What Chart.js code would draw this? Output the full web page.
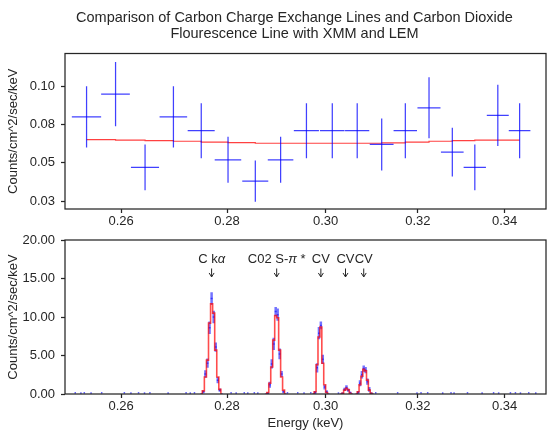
<!DOCTYPE html>
<html>
<head>
<meta charset="utf-8">
<script src="https://cdn.jsdelivr.net/npm/chart.js@4"></script>
<style>
  html, body { margin: 0; padding: 0; background: #fff; }
  #wrap { position: relative; width: 547px; height: 431px; }
  canvas { position: absolute; left: 0; }
  #xmmChart { top: 0; }
  #lemChart { top: 232px; }
</style>
</head>
<body>
<div id="wrap">
  <canvas id="xmmChart" width="547" height="232"></canvas>
  <canvas id="lemChart" width="547" height="199"></canvas>
</div>
<script>
// XMM spectrum, coarse bins (top panel)
const xmmEnergy = [0.2538, 0.2590, 0.2644, 0.2697, 0.2750, 0.2802, 0.2856, 0.2907, 0.2960,
                   0.3014, 0.3067, 0.3120, 0.3172, 0.3225, 0.3278, 0.3330, 0.3384, 0.3436];
const xmmHalfWidth = 0.0026;
const xmmRate = [0.080, 0.095, 0.047, 0.080, 0.071, 0.052, 0.038, 0.052, 0.071,
                 0.071, 0.071, 0.062, 0.071, 0.086, 0.057, 0.047, 0.081, 0.071];
const xmmErr = [0.020, 0.021, 0.015, 0.020, 0.018, 0.015, 0.0135, 0.015, 0.018,
                0.018, 0.018, 0.017, 0.018, 0.020, 0.016, 0.015, 0.020, 0.018];
const xmmModel = [0.0652, 0.0648, 0.0645, 0.0641, 0.0635, 0.0632, 0.0628, 0.0628, 0.0628,
                  0.0628, 0.0628, 0.0630, 0.0635, 0.0641, 0.0645, 0.0648, 0.0648, 0.0648];

// LEM spectrum, fine bins around the lines (bottom panel)
const lemEnergy = [
  0.2750, 0.2754, 0.2758, 0.2762, 0.2766, 0.2770, 0.2774, 0.2778, 0.2782, 0.2786, 0.2790,
  0.2877, 0.2881, 0.2885, 0.2889, 0.2893, 0.2897, 0.2901, 0.2905, 0.2909, 0.2913, 0.2917,
  0.2974, 0.2978, 0.2982, 0.2986, 0.2990, 0.2994, 0.2998, 0.3002, 0.3006,
  0.3032, 0.3036, 0.3040, 0.3044, 0.3048, 0.3052, 0.3056,
  0.3065, 0.3069, 0.3073, 0.3077, 0.3081, 0.3085, 0.3089, 0.3093, 0.3097, 0.3101
];
const lemRate = [
  0, 0.3, 2.6, 4.0, 8.6, 12.4, 10.0, 6.1, 1.8, 0.5, 0,
  0, 0.1, 1.2, 3.9, 6.5, 10.7, 10.3, 5.2, 2.6, 0.3, 0,
  0, 0.2, 3.4, 7.9, 8.9, 4.5, 0.9, 0.3, 0,
  0, 0.1, 0.6, 0.85, 0.5, 0.2, 0,
  0, 0.2, 1.4, 2.5, 3.3, 3.1, 1.6, 0.6, 0.1, 0
];
const lemErr = [
  0, 0.2, 0.5, 0.6, 0.8, 0.8, 0.8, 0.6, 0.4, 0.2, 0,
  0, 0.1, 0.4, 0.6, 0.8, 0.6, 0.8, 0.7, 0.4, 0.2, 0,
  0, 0.2, 0.6, 0.8, 0.5, 0.6, 0.3, 0.2, 0,
  0, 0.1, 0.2, 0.3, 0.2, 0.1, 0,
  0, 0.2, 0.4, 0.5, 0.4, 0.4, 0.4, 0.3, 0.1, 0
];
const lemModel = [
  0, 0.4, 2.2, 4.4, 9.2, 11.7, 10.5, 5.7, 2.2, 0.6, 0,
  0, 0.2, 1.4, 3.5, 7.0, 10.2, 9.9, 5.7, 2.2, 0.5, 0,
  0, 0.3, 3.8, 7.4, 8.7, 4.0, 1.2, 0.2, 0,
  0, 0.1, 0.5, 0.75, 0.55, 0.1, 0,
  0, 0.3, 1.2, 2.3, 3.2, 3.0, 1.8, 0.5, 0.1, 0
];
const lemHalfWidth = 0.0002;

// isolated low-count LEM bins away from the lines
const bgEnergy = [0.2518, 0.2528, 0.2534, 0.2546, 0.2565, 0.2606, 0.2618, 0.2632, 0.2643, 0.2653,
                  0.2687, 0.2721, 0.2729, 0.2737, 0.2808, 0.2818, 0.2834, 0.2841, 0.2854, 0.2861,
                  0.2921, 0.2942, 0.2955, 0.2969, 0.3027, 0.3107, 0.3155, 0.3198, 0.3207, 0.3222,
                  0.3256, 0.3275, 0.3282, 0.3313, 0.3347, 0.3374, 0.3386, 0.3414, 0.3426, 0.3438,
                  0.3458, 0.3475];
const bgRate = [0.15, 0.12, 0.15, 0.12, 0.15, 0.15, 0.12, 0.15, 0.12, 0.15,
                0.12, 0.15, 0.12, 0.15, 0.15, 0.12, 0.15, 0.12, 0.15, 0.12,
                0.15, 0.15, 0.12, 0.15, 0.12, 0.15, 0.15, 0.12, 0.15, 0.15,
                0.12, 0.15, 0.12, 0.15, 0.12, 0.15, 0.12, 0.15, 0.15, 0.12,
                0.15, 0.12];
const bgErr = 0.12;

// tick values and their printed labels
const energyTicks = [0.26, 0.28, 0.30, 0.32, 0.34];
const energyTickLabels = ['0.26', '0.28', '0.30', '0.32', '0.34'];
const xmmTicks = [0.025, 0.05, 0.075, 0.1];
const xmmTickLabels = ['0.03', '0.05', '0.08', '0.10'];
const lemTicks = [0, 5, 10, 15, 20];
const lemTickLabels = ['0.00', '5.00', '10.00', '15.00', '20.00'];

// line identifications
const lineNames = ['C kα', 'C02 S-π *', 'CV', 'CV', 'CV'];
const lineEnergy = [0.2770, 0.2899, 0.2990, 0.3042, 0.3081];
const lineTextY = 17.5;
const arrowTailY = 16.3;
const arrowTipY = 15.2;

const titleLines = ['Comparison of Carbon Charge Exchange Lines and Carbon Dioxide',
                    'Flourescence Line with XMM and LEM'];

const ink = '#262626';
const fontFamily = '"Liberation Sans", Arial, Helvetica, sans-serif';
const blueBar = 'rgba(0, 0, 255, 0.75)';
const blueFine = 'rgba(0, 0, 255, 0.55)';
const redModel = 'rgba(255, 0, 0, 0.75)';

Chart.defaults.font.family = fontFamily;
Chart.defaults.font.size = 13;
Chart.defaults.color = ink;

// vertical error bars as gapped segments
function vBars(xs, ys, errs) {
  const pts = [];
  xs.forEach((x, i) => {
    const e = Array.isArray(errs) ? errs[i] : errs;
    pts.push({ x: x, y: ys[i] - e }, { x: x, y: ys[i] + e }, { x: x, y: null });
  });
  return pts;
}

// horizontal bin-width bars
function hBars(xs, ys, hw) {
  const pts = [];
  xs.forEach((x, i) => {
    pts.push({ x: x - hw, y: ys[i] }, { x: x + hw, y: ys[i] }, { x: x, y: null });
  });
  return pts;
}

// model steps, broken between separate lines
function modelSteps(xs, ys) {
  const pts = [];
  xs.forEach((x, i) => {
    pts.push({ x: x, y: ys[i] });
    if (i < xs.length - 1 && xs[i + 1] - x > 0.0006) pts.push({ x: x, y: null });
  });
  return pts;
}

function fixedTicks(values, labels) {
  return {
    afterBuildTicks: (scale) => {
      scale.ticks = values.map((v) => ({ value: v }));
    },
    callback: (value, index) => labels[index],
  };
}

const tickGrid = {
  display: true,
  drawOnChartArea: false,
  drawTicks: true,
  tickLength: 4,
  tickWidth: 1.25,
  tickColor: ink,
};

function energyAxis(height, withTitle) {
  const t = fixedTicks(energyTicks, energyTickLabels);
  return {
    type: 'logarithmic',
    min: 0.25,
    max: 0.35,
    bounds: 'data',
    afterBuildTicks: t.afterBuildTicks,
    afterFit: (scale) => { scale.height = height; },
    grid: tickGrid,
    border: { display: false },
    ticks: { callback: t.callback, padding: 1, maxRotation: 0, autoSkip: false, color: ink },
    title: {
      display: withTitle,
      text: 'Energy (keV)',
      color: ink,
      font: { size: 13 },
      padding: { top: 0, bottom: 0 },
    },
  };
}

function rateAxis(min, max, values, labels) {
  const t = fixedTicks(values, labels);
  return {
    type: 'linear',
    min: min,
    max: max,
    bounds: 'data',
    afterBuildTicks: t.afterBuildTicks,
    afterFit: (scale) => {
      scale.width = 65;
      // plot edges are set by the layout padding alone
      scale.paddingTop = 0;
      scale.paddingBottom = 0;
    },
    grid: tickGrid,
    border: { display: false },
    ticks: { callback: t.callback, padding: 6, color: ink },
    title: {
      display: true,
      text: 'Counts/cm^2/sec/keV',
      color: ink,
      font: { size: 13 },
      padding: { top: 6, bottom: 0 },
    },
  };
}

// box round the plot area
const framePlugin = {
  id: 'frame',
  afterDatasetsDraw(chart) {
    const { ctx, chartArea: a } = chart;
    ctx.save();
    ctx.strokeStyle = ink;
    ctx.lineWidth = 1.25;
    ctx.strokeRect(a.left, a.top, a.right - a.left, a.bottom - a.top);
    ctx.restore();
  },
};

// two-line heading above the upper panel
const headingPlugin = {
  id: 'heading',
  afterDraw(chart) {
    const { ctx, chartArea: a } = chart;
    const cx = (a.left + a.right) / 2 - 11;
    ctx.save();
    ctx.fillStyle = ink;
    ctx.font = '14.5px ' + fontFamily;
    ctx.textAlign = 'center';
    ctx.textBaseline = 'middle';
    ctx.fillText(titleLines[0], cx, a.top - 36);
    ctx.fillText(titleLines[1], cx, a.top - 19.3);
    ctx.restore();
  },
};

// names and arrows over the emission lines, greek letters in italics
const lineLabelPlugin = {
  id: 'lineLabels',
  afterDatasetsDraw(chart) {
    const { ctx, scales: { x, y } } = chart;
    ctx.save();
    ctx.fillStyle = ink;
    ctx.strokeStyle = ink;
    ctx.lineWidth = 1;
    ctx.textBaseline = 'middle';
    ctx.textAlign = 'left';
    lineNames.forEach((name, i) => {
      const px = x.getPixelForValue(lineEnergy[i]);
      const runs = [];
      for (const ch of name) {
        const italic = ch === 'α' || ch === 'π';
        const last = runs[runs.length - 1];
        if (last && last.italic === italic) last.text += ch;
        else runs.push({ text: ch, italic: italic });
      }
      let total = 0;
      runs.forEach((r) => {
        ctx.font = (r.italic ? 'italic ' : '') + '13px ' + fontFamily;
        r.w = ctx.measureText(r.text).width;
        total += r.w;
      });
      let cx = px - total / 2;
      const ty = y.getPixelForValue(lineTextY);
      runs.forEach((r) => {
        ctx.font = (r.italic ? 'italic ' : '') + '13px ' + fontFamily;
        ctx.fillText(r.text, cx, ty);
        cx += r.w;
      });
      const y0 = y.getPixelForValue(arrowTailY);
      const y1 = y.getPixelForValue(arrowTipY);
      ctx.beginPath();
      ctx.moveTo(px, y0);
      ctx.lineTo(px, y1);
      ctx.moveTo(px - 2.5, y1 - 4);
      ctx.lineTo(px, y1);
      ctx.lineTo(px + 2.5, y1 - 4);
      ctx.stroke();
    });
    ctx.restore();
  },
};

const commonOptions = {
  responsive: false,
  animation: false,
  events: [],
  plugins: { legend: { display: false }, tooltip: { enabled: false } },
  elements: { point: { radius: 0 } },
};

new Chart(document.getElementById('xmmChart'), {
  type: 'line',
  data: {
    datasets: [
      { data: vBars(xmmEnergy, xmmRate, xmmErr), borderColor: blueBar, borderWidth: 1.25 },
      { data: hBars(xmmEnergy, xmmRate, xmmHalfWidth), borderColor: blueBar, borderWidth: 1.25 },
      {
        data: xmmEnergy.map((x, i) => ({ x: x, y: xmmModel[i] })),
        borderColor: redModel,
        borderWidth: 1.2,
        stepped: true,
      },
    ],
  },
  options: {
    ...commonOptions,
    layout: { padding: { top: 53.5, right: 1, bottom: 0, left: 0 } },
    scales: {
      x: energyAxis(23, false),
      y: rateAxis(0.0198, 0.1215, xmmTicks, xmmTickLabels),
    },
  },
  plugins: [framePlugin, headingPlugin],
});

new Chart(document.getElementById('lemChart'), {
  type: 'line',
  data: {
    datasets: [
      {
        data: modelSteps(lemEnergy, lemModel),
        borderColor: 'rgba(255, 0, 0, 0.7)',
        borderWidth: 1.6,
        stepped: 'middle',
      },
      { data: vBars(lemEnergy, lemRate, lemErr), borderColor: blueFine, borderWidth: 2.5 },
      { data: hBars(lemEnergy, lemRate, lemHalfWidth), borderColor: blueFine, borderWidth: 1.5 },
      { data: vBars(bgEnergy, bgRate, bgErr), borderColor: 'rgba(0, 0, 255, 0.6)', borderWidth: 1.5 },
    ],
  },
  options: {
    ...commonOptions,
    layout: { padding: { top: 8, right: 1, bottom: 0, left: 0 } },
    scales: {
      x: energyAxis(37, true),
      y: rateAxis(0, 20, lemTicks, lemTickLabels),
    },
  },
  plugins: [framePlugin, lineLabelPlugin],
});
</script>
</body>
</html>
